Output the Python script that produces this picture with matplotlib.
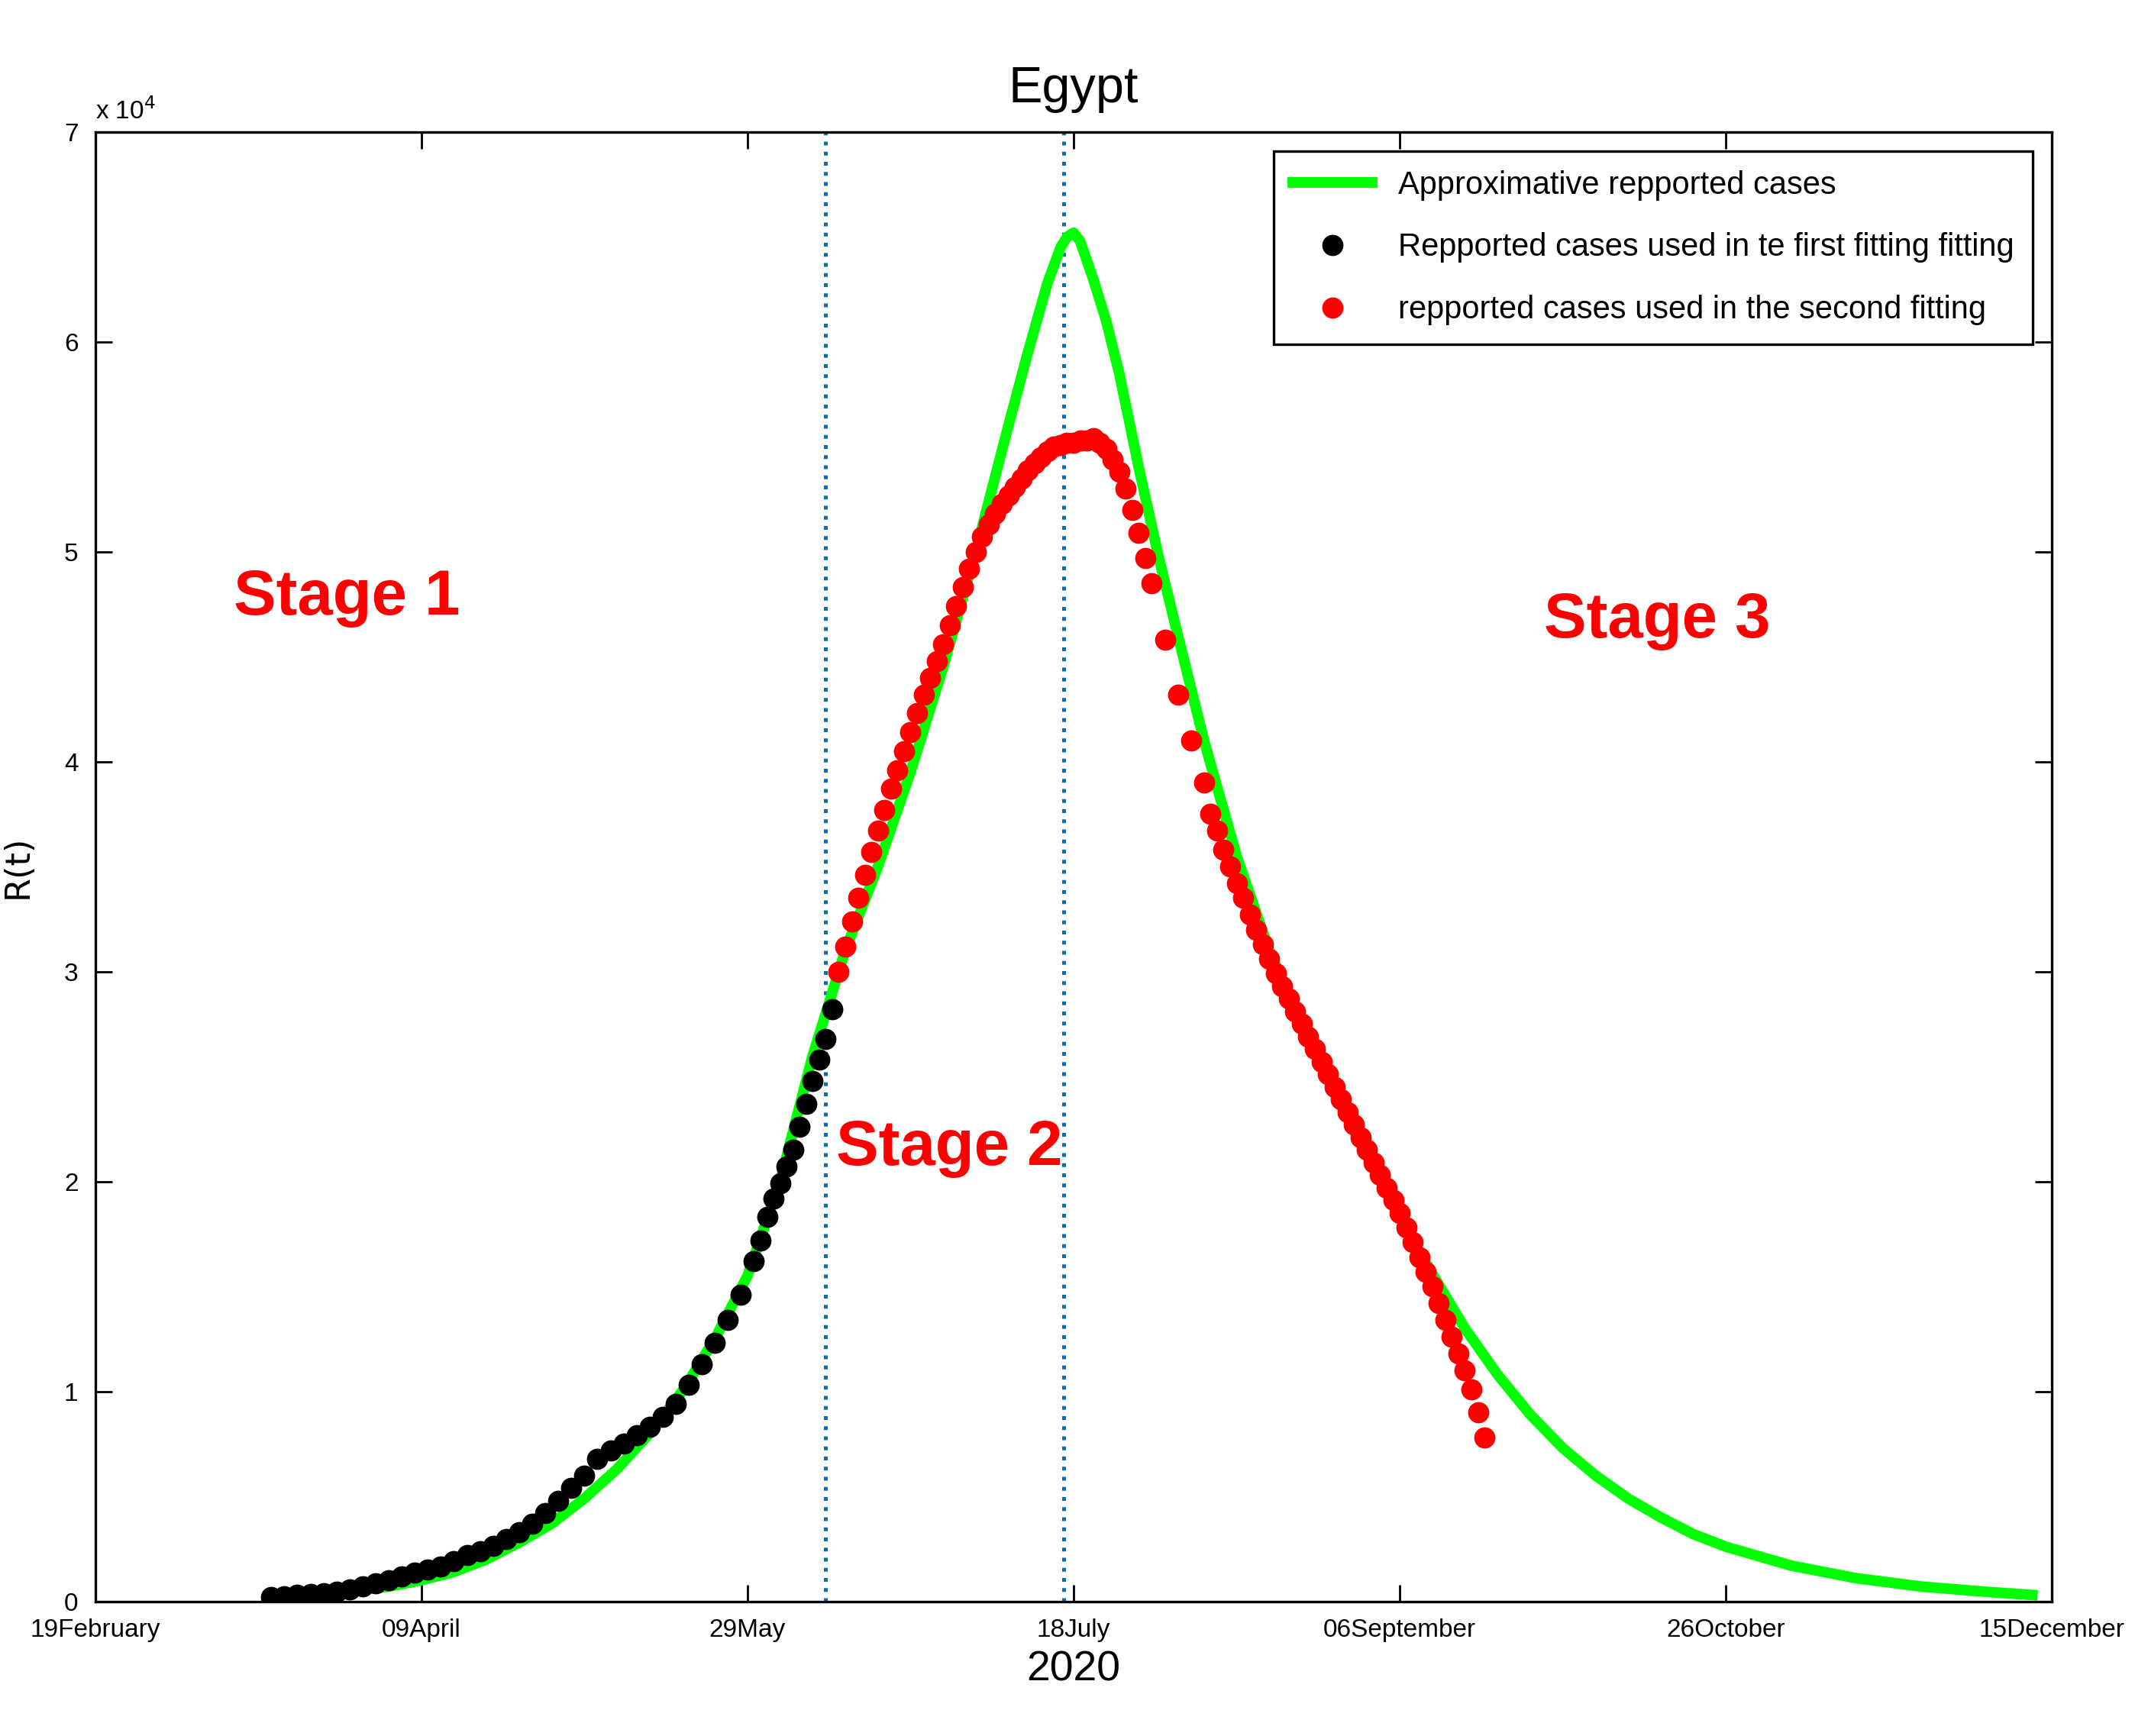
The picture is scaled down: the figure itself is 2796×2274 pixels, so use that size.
import numpy as np
import matplotlib.pyplot as plt

plt.rcParams['font.family'] = ['Liberation Sans Narrow', 'Liberation Sans', 'DejaVu Sans']

# days counted from 19 February 2020
tick_days = [0, 50, 100, 150, 200, 250, 300]
tick_labels = ['19February', '09April', '29May', '18July', '06September', '26October', '15December']

green_days = [27, 35, 40, 45, 50, 55, 60, 65, 70, 75, 80, 85, 90, 95, 100, 105, 110, 115, 120,
              125, 130, 135, 140, 143, 146, 148, 149, 150, 151, 153, 155, 157, 160, 163, 166,
              170, 175, 180, 185, 190, 195, 200, 205, 210, 215, 220, 225, 230, 235, 240, 245,
              250, 260, 270, 280, 290, 297]
green_vals = [200, 350, 500, 700, 1000, 1400, 2000, 2800, 3700, 4900, 6300, 8000, 10000, 12500,
              15500, 20000, 26000, 31000, 35000, 39500, 44500, 50000, 56000, 59500, 62800, 64500,
              65000, 65200, 64800, 63000, 61000, 58500, 54000, 49800, 46000, 41000, 35500, 31000,
              27500, 24200, 21200, 18300, 15600, 13000, 10800, 8900, 7300, 6000, 4900, 4000,
              3200, 2600, 1700, 1100, 700, 450, 300]

black_days = [27, 29, 31, 33, 35, 37, 39, 41, 43, 45, 47, 49, 51, 53, 55, 57, 59, 61, 63, 65,
              67, 69, 71, 73, 75, 77, 79, 81, 83, 85, 87, 89, 91, 93, 95, 97, 99, 101, 102, 103,
              104, 105, 106, 107, 108, 109, 110, 111, 112, 113]
black_vals = [200, 250, 300, 350, 400, 450, 550, 700, 850, 1000, 1200, 1350, 1500, 1650, 1900,
              2200, 2400, 2650, 2950, 3300, 3700, 4200, 4800, 5400, 6000, 6800, 7200, 7500, 7900,
              8300, 8800, 9400, 10300, 11300, 12300, 13400, 14600, 16200, 17200, 18300, 19200,
              19900, 20700, 21500, 22600, 23700, 24800, 25800, 26800, 28200]

red_days = [114, 115, 116, 117, 118, 119, 120, 121, 122, 123, 124, 125, 126, 127, 128, 129, 130,
            131, 132, 133, 134, 135, 136, 137, 138, 139, 140, 141, 142, 143, 144, 145, 146, 147,
            148, 149, 150, 151, 152, 153, 154, 155, 156, 157, 158, 159, 160, 161, 162, 164, 166,
            168, 170, 171, 172, 173, 174, 175, 176, 177, 178, 179, 180, 181, 182, 183, 184, 185,
            186, 187, 188, 189, 190, 191, 192, 193, 194, 195, 196, 197, 198, 199, 200, 201, 202,
            203, 204, 205, 206, 207, 208, 209, 210, 211, 212, 213]
red_vals = [30000, 31200, 32400, 33500, 34600, 35700, 36700, 37700, 38700, 39600, 40500, 41400,
            42300, 43200, 44000, 44800, 45600, 46500, 47400, 48300, 49200, 50000, 50700, 51300,
            51800, 52300, 52700, 53100, 53500, 53900, 54200, 54500, 54800, 55000, 55100, 55200,
            55200, 55300, 55300, 55400, 55200, 54900, 54400, 53800, 53000, 52000, 50900, 49700,
            48500, 45800, 43200, 41000, 39000, 37500, 36700, 35800, 35000, 34200, 33500, 32700,
            32000, 31300, 30600, 29900, 29300, 28700, 28100, 27500, 26900, 26300, 25700, 25100,
            24500, 23900, 23300, 22700, 22100, 21500, 20900, 20300, 19700, 19100, 18500, 17800,
            17100, 16400, 15700, 15000, 14200, 13400, 12600, 11800, 11000, 10100, 9000, 7800]

stage_lines = [112, 148.5]

fig = plt.figure(figsize=(13.98, 11.37), dpi=200)
ax = fig.add_axes([0.0446, 0.0776, 0.9165, 0.8464])

ax.plot(green_days, green_vals, color='#00ff00', lw=5, label='Approximative repported cases', zorder=2)
ax.plot(black_days, black_vals, 'o', color='black', ms=9, label='Repported cases used in te first fitting fitting', zorder=3)
ax.plot(red_days, red_vals, 'o', color='red', ms=9, label='repported cases used in the second fitting', zorder=3)
for d in stage_lines:
    ax.axvline(d, color='#0072bd', ls=':', lw=1.8, zorder=1)

for x, y, s in [(38.6, 47800, 'Stage 1'), (131, 21600, 'Stage 2'), (239.5, 46700, 'Stage 3')]:
    ax.text(x, y, s, color='red', fontsize=30, fontweight='bold', ha='center', va='center')

ax.set_xlim(0, 300)
ax.set_ylim(0, 70000)
ax.set_xticks(tick_days)
ax.set_xticklabels(tick_labels)
ax.set_yticks(np.arange(0, 70001, 10000))
ax.set_yticklabels([str(i) for i in range(8)])
ax.tick_params(direction='in', top=True, right=True, length=8, labelsize=12, width=1, pad=8)
ax.text(0.0, 1.005, r'x 10$^4$', transform=ax.transAxes, fontsize=12, va='bottom', ha='left')
ax.set_xlabel('2020', fontsize=20, labelpad=4)
ax.set_ylabel('R(t)', fontsize=16, family='DejaVu Sans', labelpad=14)
ax.set_title('Egypt', fontsize=24, pad=14)
for s in ax.spines.values():
    s.set_linewidth(1.2)

leg = ax.legend(loc='upper right', fontsize=15, fancybox=False, edgecolor='black',
                borderaxespad=0.6, handlelength=2.5, framealpha=1, labelspacing=1.0,
                borderpad=0.6)
leg.get_frame().set_linewidth(1.2)

fig.savefig('out.png', dpi=200)
